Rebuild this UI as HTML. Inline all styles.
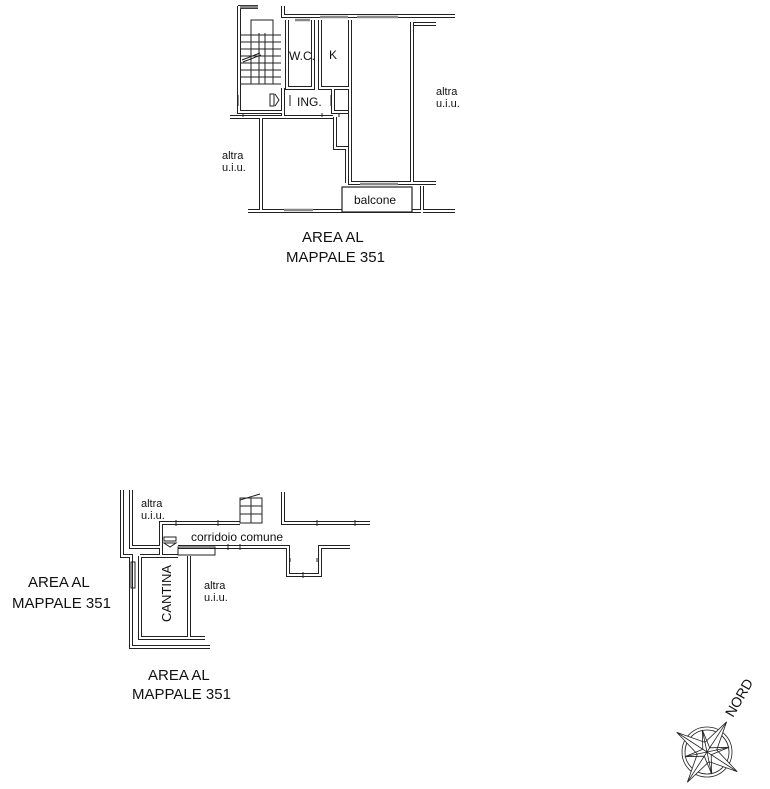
<!DOCTYPE html>
<html><head><meta charset="utf-8"><style>
html,body{margin:0;padding:0;background:#fff;}
svg{display:block;}
text{font-family:"Liberation Sans",sans-serif;fill:#111;}
.w{fill:none;stroke:#222;stroke-width:4;stroke-linejoin:miter;}
.wi{fill:none;stroke:#fff;stroke-width:2;stroke-linejoin:miter;}
.l{fill:none;stroke:#222;stroke-width:1;}
.g{fill:none;stroke:#888;stroke-width:2.5;}
</style></head><body>
<svg width="770" height="789" viewBox="0 0 770 789" xmlns="http://www.w3.org/2000/svg">
<defs>
<g id="topwalls">
  <path d="M239,6 V112 H283 V117 H230"/>
  <path d="M238,7 H258"/>
  <path d="M283,6 V16 H455"/>
  <path d="M287,20 V88 H313 V20"/>
  <path d="M320,20 V88 H350"/>
  <path d="M283,88 V117"/>
  <path d="M283,117 H333"/>
  <path d="M333,88 V112 H348"/>
  <path d="M350,20 V183 H412"/>
  <path d="M412,22 V183"/>
  <path d="M414,24 H436"/>
  <path d="M412,183 H436"/>
  <path d="M422,186 V213"/>
  <path d="M261,117 V211"/>
  <path d="M248,211 H455"/>
  <path d="M335,117 V148 H347 V183"/>
</g>
<g id="botwalls">
  <path d="M122,490 V556 H131 V647 H210"/>
  <path d="M131,490 V547 H161 V523 H240"/>
  <path d="M283,492 V523 H370"/>
  <path d="M161,547 V556"/>
  <path d="M178,547 H288 V575 H320 V547 H350"/>
  <path d="M140,556 V638 H205"/>
  <path d="M189,556 V638"/>
  <path d="M140,556 H178"/>
</g>
</defs>
<g class="w"><use href="#topwalls"/><use href="#botwalls"/></g>
<g class="wi"><use href="#topwalls"/><use href="#botwalls"/></g>
<g class="g">
  <path d="M240,7 H258"/><path d="M320,17 H348"/><path d="M357,17 H398"/>
  <path d="M295,20 H310"/><path d="M284,210 H313"/><path d="M360,184 H398"/>
</g>
<g class="l">
  <rect x="251" y="20" width="22" height="64"/>
  <path d="M259,33 V84 M265,33 V84"/>
  <path d="M241,35 H281 M241,42 H281 M241,49 H281 M241,56 H281 M241,63 H281 M241,70 H281 M241,77 H281 M241,84 H281"/>
  <path d="M242,60 L260,53 M243,62 L261,55"/>
  <rect x="270" y="94" width="4" height="12"/>
  <path d="M275,94 L279,100 L275,106"/>
  <path d="M238,95 V106 M290,95 V106 M331,95 V106 M243,117 V113 M322,117 V113 M339,117 V113"/>
</g>
<rect x="342" y="187" width="70" height="25" fill="#fff" stroke="#222" stroke-width="1.2"/>
<g class="l">
  <rect x="240" y="498" width="22" height="25"/>
  <path d="M251,498 V523 M240,506 H262 M240,514 H262 M240,500 L260,494"/>
  <rect x="131" y="562" width="4" height="26"/>
  <rect x="178" y="547" width="37" height="8"/>
  <rect x="164" y="537" width="12" height="4"/>
  <path d="M164,543 H176 L170,547 Z"/>
  <path d="M176,520 V526 M218,520 V526 M317,520 V526 M355,520 V526 M228,544 V550 M240,544 V550 M290,558 V562 M317,558 V562 M303,572 V578"/>
</g>
<g font-size="12">
  <text x="289" y="60">W.C.</text>
  <text x="329" y="59">K</text>
  <text x="297" y="106">ING.</text>
  <text x="436" y="95" font-size="11">altra</text><text x="436" y="107" font-size="11">u.i.u.</text>
  <text x="222" y="159" font-size="11">altra</text><text x="222" y="171" font-size="11">u.i.u.</text>
  <text x="354" y="204">balcone</text>
  <text x="141" y="507" font-size="11">altra</text><text x="141" y="519" font-size="11">u.i.u.</text>
  <text x="191" y="541">corridoio comune</text>
  <text x="204" y="589" font-size="11">altra</text><text x="204" y="601" font-size="11">u.i.u.</text>
  <text transform="translate(171,622) rotate(-90)" font-size="13">CANTINA</text>
</g>
<g font-size="15">
  <text x="302" y="242">AREA AL</text><text x="286" y="262">MAPPALE 351</text>
  <text x="28" y="587">AREA AL</text><text x="12" y="608">MAPPALE 351</text>
  <text x="148" y="680">AREA AL</text><text x="132" y="699">MAPPALE 351</text>
</g>
<g transform="translate(707,752)" fill="none" stroke="#222" stroke-width="0.8">
  <circle r="25"/><circle r="22"/>
  <g transform="rotate(33)">
    <path d="M0,-36 L7,-7 L36,0 L7,7 L0,36 L-7,7 L-36,0 L-7,-7 Z" fill="#fff"/>
    <path d="M0,-36 V36 M-36,0 H36"/>
    <path d="M0,0 L15,-15 M0,0 L-15,15 M0,0 L15,15 M0,0 L-15,-15"/>
    <path d="M-16,-16 L0,-5 L16,-16 L5,0 L16,16 L0,5 L-16,16 L-5,0 Z"/>
  </g>
</g>
<text transform="translate(733,718) rotate(-60)" font-size="14">NORD</text>
</svg>
</body></html>
